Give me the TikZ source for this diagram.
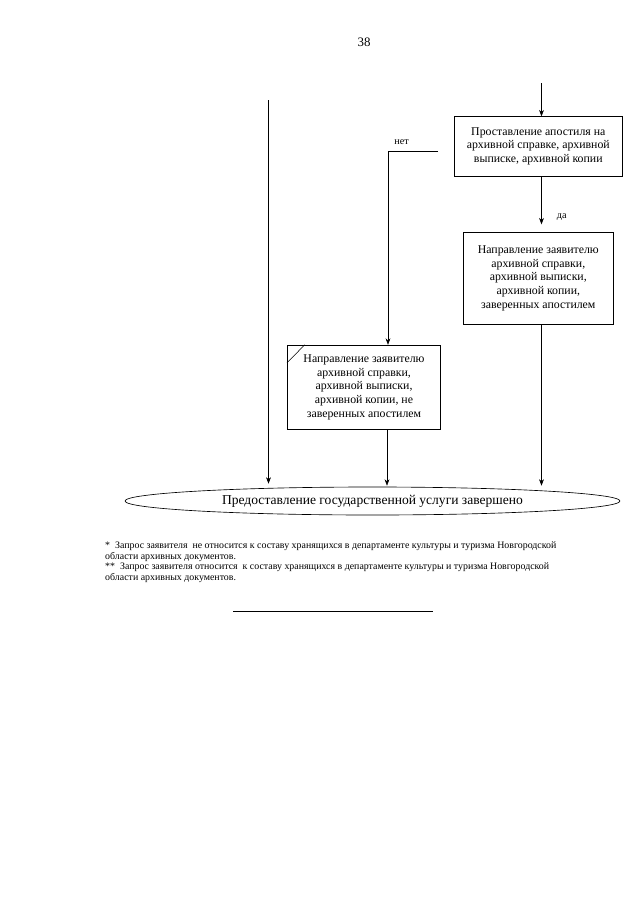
\documentclass[tikz,border=0pt]{standalone}
\usepackage{fontspec}
\setmainfont{Liberation Serif}
\usetikzlibrary{shapes.geometric,arrows.meta}
\begin{document}
\begin{tikzpicture}[x=0.93pt,y=-0.93pt,
  box/.style={draw,line width=0.5pt,inner sep=0pt,align=center,font=\fontsize{11}{12.8}\selectfont},
  conn/.style={line width=0.5pt},
  arr/.style={conn,-{Stealth[length=6pt,width=4.5pt]}},
  lbl/.style={font=\fontsize{9.5}{10}\selectfont,inner sep=0pt},
  note/.style={font=\fontsize{9.2}{10}\selectfont,inner sep=0pt,anchor=base west}]
\useasboundingbox (0,0) rectangle (640,905);
\node[font=\fontsize{12}{14}\selectfont,inner sep=0pt] (pg) at (364,42) {38};
% boxes
\node[box,minimum width=168.7*0.93pt,minimum height=59.3*0.93pt] (b1) at (538.3,146.3)
  {Проставление апостиля на\\архивной справке, архивной\\выписке, архивной копии};
\node[box,minimum width=150*0.93pt,minimum height=91.3*0.93pt] (b2) at (538.3,278.3)
  {Направление заявителю\\архивной справки,\\архивной выписки,\\архивной копии,\\заверенных апостилем};
\node[box,minimum width=153.4*0.93pt,minimum height=84.3*0.93pt] (b3) at (364,387.2)
  {Направление заявителю\\архивной справки,\\архивной выписки,\\архивной копии, не\\заверенных апостилем};
\draw[conn] ([yshift=-18*0.93pt]b3.north west) -- ([xshift=17.7*0.93pt]b3.north west);
\node[draw,ellipse,line width=0.6pt,inner sep=0pt,minimum width=495*0.93pt,minimum height=28*0.93pt,
  font=\fontsize{12.6}{14}\selectfont] (e) at (372.5,501) {Предоставление государственной услуги завершено\hspace{27pt}};
% coordinates
\coordinate (t) at (541.5,83);
\coordinate (n0) at (438,151.7);
\coordinate (n1) at (388,151.7);
\coordinate (l0) at (268.5,100);
\coordinate (xr) at (541.5,0);
\coordinate (xm) at (387,0);
% connectors
\draw[arr] (t) -- (t |- b1.north);
\draw[arr,shorten >=8*0.93pt] (xr |- b1.south) -- (xr |- b2.north);
\node[lbl] (da) at (561.7,216.7) {да};
\draw[arr] (n0) -- (n1) -- (n1 |- b3.north);
\node[lbl] (net) at (401.7,141.7) {нет};
\draw[arr,shorten >=3*0.93pt] (l0) -- (l0 |- e.north);
\draw[arr,shorten >=1*0.93pt] (xm |- b3.south) -- (xm |- e.north);
\draw[arr,shorten >=1*0.93pt] (xr |- b2.south) -- (xr |- e.north);
% footnotes
\node[note] (f1) at (105,548) {*\ \ Запрос заявителя\ \ не относится к составу хранящихся в департаменте культуры и туризма Новгородской};
\node[note] (f2) at (105,559) {области архивных документов.};
\node[note] (f3) at (105,569.5) {**\ \ Запрос заявителя относится\ \ к составу хранящихся в департаменте культуры и туризма Новгородской};
\node[note] (f4) at (105,580) {области архивных документов.};
\coordinate (h0) at (233,611.7);
\coordinate (h1) at (432.7,611.7);
\draw[conn] (h0) -- (h1);
\end{tikzpicture}
\end{document}
